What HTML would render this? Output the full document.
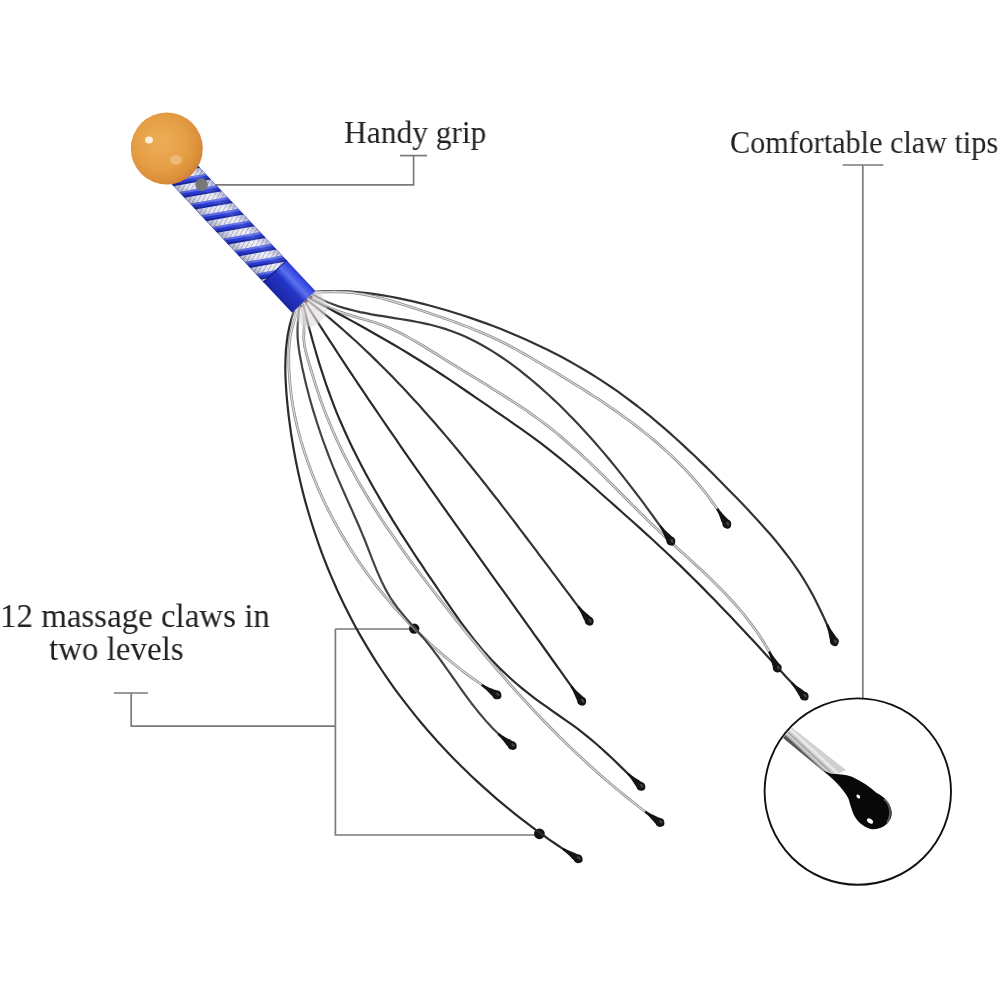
<!DOCTYPE html>
<html><head><meta charset="utf-8"><style>
html,body{margin:0;padding:0;background:#fff;}
body{width:1000px;height:1000px;position:relative;overflow:hidden;}
svg{position:absolute;left:0;top:0;}
.t{position:absolute;transform-origin:0 0;will-change:transform;font-family:"Liberation Serif",serif;color:#222;white-space:nowrap;line-height:1;}
</style></head><body>
<svg width="1000" height="1000" viewBox="0 0 1000 1000">

<defs>
  <radialGradient id="ballg" cx="0.42" cy="0.42" r="0.62">
    <stop offset="0" stop-color="#ecad58"/>
    <stop offset="0.55" stop-color="#e6a046"/>
    <stop offset="0.85" stop-color="#dc8f3a"/>
    <stop offset="1" stop-color="#cf7f34"/>
  </radialGradient>
  <linearGradient id="blueg" x1="0" y1="0" x2="0" y2="1">
    <stop offset="0" stop-color="#3850e0"/>
    <stop offset="0.35" stop-color="#2a3fd0"/>
    <stop offset="0.75" stop-color="#1c2cb0"/>
    <stop offset="1" stop-color="#20309a"/>
  </linearGradient>
  <radialGradient id="hubfade" cx="0.5" cy="0.5" r="0.5">
    <stop offset="0" stop-color="#fff" stop-opacity="0.55"/>
    <stop offset="0.6" stop-color="#fff" stop-opacity="0.3"/>
    <stop offset="1" stop-color="#fff" stop-opacity="0"/>
  </radialGradient>
  <linearGradient id="shade" x1="0" y1="0" x2="0" y2="1">
    <stop offset="0" stop-color="#000" stop-opacity="0.10"/>
    <stop offset="0.3" stop-color="#fff" stop-opacity="0.10"/>
    <stop offset="0.7" stop-color="#000" stop-opacity="0.0"/>
    <stop offset="1" stop-color="#000" stop-opacity="0.18"/>
  </linearGradient>
  <linearGradient id="silv" x1="0" y1="0" x2="0" y2="1">
    <stop offset="0" stop-color="#c8ccee"/>
    <stop offset="0.4" stop-color="#f4f4ff"/>
    <stop offset="1" stop-color="#d0d4ea"/>
  </linearGradient>
  <linearGradient id="collar" x1="0" y1="0" x2="0" y2="1">
    <stop offset="0" stop-color="#2a3ad8"/>
    <stop offset="0.3" stop-color="#5a72f0"/>
    <stop offset="0.5" stop-color="#2436c8"/>
    <stop offset="1" stop-color="#1a26a0"/>
  </linearGradient>
  <linearGradient id="tube2" gradientUnits="userSpaceOnUse" x1="804" y1="753.5" x2="811" y2="746">
    <stop offset="0" stop-color="#555"/>
    <stop offset="0.1" stop-color="#a0a0a0"/>
    <stop offset="0.3" stop-color="#d8d8d8"/>
    <stop offset="0.45" stop-color="#a0a0a0"/>
    <stop offset="0.6" stop-color="#d0d0d0"/>
    <stop offset="0.85" stop-color="#f0f0f0"/>
    <stop offset="1" stop-color="#d0d0d0"/>
  </linearGradient>
  <linearGradient id="tube" x1="0" y1="0" x2="0" y2="1">
    <stop offset="0" stop-color="#bbb"/>
    <stop offset="0.3" stop-color="#f4f4f4"/>
    <stop offset="0.55" stop-color="#cfcfcf"/>
    <stop offset="0.8" stop-color="#888"/>
    <stop offset="1" stop-color="#444"/>
  </linearGradient>
</defs>

<g stroke="#7a7a7a" stroke-width="1.7" fill="none">
  <path d="M400,155.6 H427"/>
  <path d="M413.6,155.6 V184.8 H204"/>
  <path d="M842.6,165 H883.2"/>
  <path d="M862.8,165 V698"/>
  <path d="M114,693 H148"/>
  <path d="M131.2,693 V726.2 H335.4"/>
  <path d="M335.4,629 V835 H539"/>
  <path d="M335.4,629 H414"/>
</g>
<circle cx="201.6" cy="184.6" r="6.3" fill="#777"/>
<circle cx="414.2" cy="628.6" r="5.2" fill="#111"/>
<circle cx="539.4" cy="833.8" r="5.4" fill="#111"/>

<g><path d="M316.0,291.5 L324.2,291.1 L332.3,291.0 L340.5,291.1 L348.7,291.4 L356.9,292.0 L365.1,292.9 L373.3,293.9 L381.5,295.1 L389.7,296.5 L397.9,298.1 L406.1,299.8 L414.2,301.6 L422.3,303.6 L430.4,305.8 L438.5,308.0 L446.5,310.3 L454.5,312.8 L462.5,315.3 L470.4,317.9 L478.3,320.6 L486.1,323.4 L493.9,326.3 L501.6,329.3 L509.3,332.4 L517.0,335.7 L524.6,339.0 L532.1,342.4 L539.6,345.9 L547.0,349.5 L554.4,353.3 L561.7,357.1 L569.0,361.0 L576.2,365.1 L583.3,369.3 L590.4,373.5 L597.4,377.9 L604.3,382.4 L611.2,387.0 L618.0,391.7 L624.7,396.6 L631.3,401.5 L637.9,406.5 L644.4,411.7 L650.9,416.9 L657.3,422.3 L663.6,427.7 L669.9,433.2 L676.1,438.7 L682.3,444.4 L688.4,450.1 L694.5,455.8 L700.5,461.6 L706.5,467.4 L712.4,473.3 L718.3,479.2 L724.2,485.2 L730.0,491.2 L735.8,497.1 L741.6,503.1 L747.3,509.1 L753.0,515.2 L758.6,521.3 L764.1,527.4 L769.6,533.6 L774.9,539.8 L780.1,546.2 L785.2,552.7 L790.1,559.2 L794.9,565.9 L799.5,572.7 L804.0,579.7 L808.2,586.8 L812.3,594.1 L816.1,601.4 L819.8,608.9 L823.4,616.5 L826.9,624.2 L830.3,631.9 L833.6,639.6" stroke="#333" stroke-width="2.2" fill="none" stroke-linecap="round" stroke-linejoin="round"/><path d="M315.0,292.6 L321.1,292.1 L327.2,291.8 L333.4,291.7 L339.5,291.8 L345.6,292.1 L351.7,292.7 L357.7,293.5 L363.7,294.4 L369.7,295.6 L375.7,296.9 L381.6,298.3 L387.6,299.9 L393.5,301.6 L399.4,303.4 L405.3,305.2 L411.2,307.1 L417.0,309.0 L422.9,311.0 L428.8,313.0 L434.6,315.0 L440.5,317.0 L446.3,319.0 L452.1,321.1 L457.9,323.2 L463.7,325.4 L469.4,327.6 L475.1,329.9 L480.8,332.2 L486.4,334.7 L492.0,337.2 L497.5,339.8 L503.0,342.5 L508.4,345.3 L513.9,348.2 L519.2,351.2 L524.6,354.2 L529.9,357.2 L535.2,360.3 L540.5,363.4 L545.8,366.6 L551.1,369.7 L556.4,372.9 L561.7,376.1 L567.0,379.3 L572.3,382.6 L577.5,385.9 L582.8,389.2 L588.0,392.5 L593.2,395.8 L598.4,399.2 L603.6,402.7 L608.7,406.1 L613.8,409.6 L618.8,413.2 L623.9,416.8 L628.8,420.4 L633.8,424.1 L638.7,427.9 L643.5,431.7 L648.3,435.5 L653.0,439.4 L657.7,443.4 L662.3,447.4 L666.9,451.5 L671.4,455.7 L675.8,459.9 L680.1,464.2 L684.4,468.6 L688.6,473.1 L692.7,477.6 L696.8,482.2 L700.7,486.9 L704.6,491.7 L708.4,496.6 L712.0,501.6 L715.6,506.6 L719.1,511.7 L722.5,517.0 L725.8,522.3" stroke="#8a8a8a" stroke-width="2.7" fill="none" stroke-linecap="round" stroke-linejoin="round"/><path d="M315.0,292.6 L321.1,292.1 L327.2,291.8 L333.4,291.7 L339.5,291.8 L345.6,292.1 L351.7,292.7 L357.7,293.5 L363.7,294.4 L369.7,295.6 L375.7,296.9 L381.6,298.3 L387.6,299.9 L393.5,301.6 L399.4,303.4 L405.3,305.2 L411.2,307.1 L417.0,309.0 L422.9,311.0 L428.8,313.0 L434.6,315.0 L440.5,317.0 L446.3,319.0 L452.1,321.1 L457.9,323.2 L463.7,325.4 L469.4,327.6 L475.1,329.9 L480.8,332.2 L486.4,334.7 L492.0,337.2 L497.5,339.8 L503.0,342.5 L508.4,345.3 L513.9,348.2 L519.2,351.2 L524.6,354.2 L529.9,357.2 L535.2,360.3 L540.5,363.4 L545.8,366.6 L551.1,369.7 L556.4,372.9 L561.7,376.1 L567.0,379.3 L572.3,382.6 L577.5,385.9 L582.8,389.2 L588.0,392.5 L593.2,395.8 L598.4,399.2 L603.6,402.7 L608.7,406.1 L613.8,409.6 L618.8,413.2 L623.9,416.8 L628.8,420.4 L633.8,424.1 L638.7,427.9 L643.5,431.7 L648.3,435.5 L653.0,439.4 L657.7,443.4 L662.3,447.4 L666.9,451.5 L671.4,455.7 L675.8,459.9 L680.1,464.2 L684.4,468.6 L688.6,473.1 L692.7,477.6 L696.8,482.2 L700.7,486.9 L704.6,491.7 L708.4,496.6 L712.0,501.6 L715.6,506.6 L719.1,511.7 L722.5,517.0 L725.8,522.3" stroke="#dcdcdc" stroke-width="1.2" fill="none" stroke-linecap="round" stroke-linejoin="round"/><path d="M313.0,294.5 L317.8,297.3 L322.8,299.9 L327.8,302.2 L333.0,304.3 L338.3,306.2 L343.6,307.9 L349.1,309.4 L354.6,310.8 L360.1,312.1 L365.8,313.2 L371.4,314.3 L377.2,315.3 L382.9,316.2 L388.6,317.1 L394.4,318.1 L400.1,319.0 L405.9,319.9 L411.6,320.9 L417.3,322.0 L423.0,323.1 L428.6,324.3 L434.2,325.7 L439.7,327.2 L445.1,328.9 L450.5,330.7 L455.8,332.7 L461.0,334.8 L466.2,337.1 L471.3,339.5 L476.3,342.0 L481.3,344.7 L486.2,347.5 L491.0,350.4 L495.8,353.4 L500.5,356.5 L505.2,359.7 L509.8,362.9 L514.4,366.3 L518.9,369.7 L523.4,373.3 L527.8,376.8 L532.2,380.5 L536.5,384.1 L540.8,387.9 L545.1,391.7 L549.3,395.5 L553.4,399.4 L557.6,403.3 L561.7,407.3 L565.7,411.3 L569.7,415.4 L573.7,419.4 L577.6,423.6 L581.5,427.7 L585.4,431.9 L589.3,436.2 L593.1,440.5 L596.8,444.7 L600.6,449.1 L604.3,453.4 L607.9,457.8 L611.6,462.2 L615.2,466.6 L618.8,471.1 L622.4,475.6 L625.9,480.1 L629.4,484.6 L632.9,489.1 L636.3,493.6 L639.8,498.2 L643.2,502.7 L646.6,507.3 L649.9,511.9 L653.3,516.5 L656.6,521.1 L659.9,525.7 L663.2,530.3 L666.5,534.9 L669.7,539.5" stroke="#3a3a3a" stroke-width="2.2" fill="none" stroke-linecap="round" stroke-linejoin="round"/><path d="M311.0,296.5 L317.2,301.1 L323.7,305.0 L330.6,308.3 L337.7,311.1 L344.9,313.6 L352.3,315.9 L359.8,318.1 L367.2,320.2 L374.6,322.5 L381.9,325.0 L388.9,327.8 L395.9,331.0 L402.7,334.3 L409.3,337.9 L415.9,341.6 L422.5,345.5 L428.9,349.5 L435.4,353.5 L441.9,357.6 L448.4,361.6 L454.9,365.7 L461.4,369.7 L468.0,373.7 L474.6,377.7 L481.2,381.7 L487.7,385.7 L494.3,389.8 L500.8,393.9 L507.3,398.0 L513.8,402.1 L520.2,406.4 L526.6,410.7 L532.8,415.1 L539.0,419.5 L545.2,424.1 L551.2,428.8 L557.1,433.5 L563.0,438.4 L568.7,443.4 L574.4,448.4 L580.1,453.6 L585.6,458.8 L591.2,464.0 L596.6,469.3 L602.1,474.6 L607.5,480.0 L612.9,485.4 L618.3,490.8 L623.7,496.3 L629.1,501.7 L634.5,507.1 L639.9,512.5 L645.3,517.9 L650.8,523.2 L656.4,528.5 L661.9,533.8 L667.5,539.0 L673.2,544.2 L678.8,549.4 L684.5,554.5 L690.1,559.7 L695.8,564.9 L701.4,570.1 L706.9,575.3 L712.4,580.6 L717.8,586.0 L723.2,591.4 L728.4,596.9 L733.5,602.5 L738.6,608.2 L743.5,614.0 L748.2,620.0 L752.8,626.1 L757.2,632.3 L761.5,638.7 L765.5,645.2 L769.4,651.9 L773.0,658.9 L776.4,666.0" stroke="#8a8a8a" stroke-width="2.7" fill="none" stroke-linecap="round" stroke-linejoin="round"/><path d="M311.0,296.5 L317.2,301.1 L323.7,305.0 L330.6,308.3 L337.7,311.1 L344.9,313.6 L352.3,315.9 L359.8,318.1 L367.2,320.2 L374.6,322.5 L381.9,325.0 L388.9,327.8 L395.9,331.0 L402.7,334.3 L409.3,337.9 L415.9,341.6 L422.5,345.5 L428.9,349.5 L435.4,353.5 L441.9,357.6 L448.4,361.6 L454.9,365.7 L461.4,369.7 L468.0,373.7 L474.6,377.7 L481.2,381.7 L487.7,385.7 L494.3,389.8 L500.8,393.9 L507.3,398.0 L513.8,402.1 L520.2,406.4 L526.6,410.7 L532.8,415.1 L539.0,419.5 L545.2,424.1 L551.2,428.8 L557.1,433.5 L563.0,438.4 L568.7,443.4 L574.4,448.4 L580.1,453.6 L585.6,458.8 L591.2,464.0 L596.6,469.3 L602.1,474.6 L607.5,480.0 L612.9,485.4 L618.3,490.8 L623.7,496.3 L629.1,501.7 L634.5,507.1 L639.9,512.5 L645.3,517.9 L650.8,523.2 L656.4,528.5 L661.9,533.8 L667.5,539.0 L673.2,544.2 L678.8,549.4 L684.5,554.5 L690.1,559.7 L695.8,564.9 L701.4,570.1 L706.9,575.3 L712.4,580.6 L717.8,586.0 L723.2,591.4 L728.4,596.9 L733.5,602.5 L738.6,608.2 L743.5,614.0 L748.2,620.0 L752.8,626.1 L757.2,632.3 L761.5,638.7 L765.5,645.2 L769.4,651.9 L773.0,658.9 L776.4,666.0" stroke="#d8d8d8" stroke-width="1.2" fill="none" stroke-linecap="round" stroke-linejoin="round"/><path d="M309.0,298.0 L316.1,301.8 L323.3,305.6 L330.4,309.4 L337.5,313.2 L344.7,317.0 L351.7,320.9 L358.8,324.8 L365.9,328.7 L372.9,332.7 L379.9,336.7 L386.9,340.7 L393.8,344.8 L400.8,348.9 L407.7,353.0 L414.5,357.2 L421.4,361.5 L428.2,365.7 L435.0,370.1 L441.7,374.5 L448.4,378.9 L455.1,383.4 L461.8,388.0 L468.4,392.5 L475.1,397.1 L481.7,401.6 L488.4,406.2 L495.0,410.8 L501.7,415.4 L508.3,419.9 L514.9,424.6 L521.5,429.2 L528.1,433.9 L534.6,438.6 L541.1,443.4 L547.5,448.3 L553.8,453.3 L560.1,458.4 L566.3,463.5 L572.5,468.7 L578.6,473.9 L584.7,479.2 L590.8,484.5 L596.8,489.8 L602.9,495.2 L608.9,500.5 L615.0,505.9 L621.0,511.3 L627.1,516.7 L633.1,522.0 L639.1,527.4 L645.1,532.9 L651.1,538.3 L657.0,543.8 L662.9,549.3 L668.8,554.8 L674.7,560.4 L680.5,565.9 L686.3,571.6 L692.0,577.2 L697.8,582.9 L703.5,588.6 L709.1,594.4 L714.7,600.1 L720.3,605.9 L725.9,611.7 L731.5,617.6 L737.0,623.4 L742.5,629.3 L748.0,635.2 L753.5,641.1 L759.0,647.1 L764.4,653.0 L769.9,659.0 L775.3,665.0 L780.8,670.9 L786.2,676.9 L791.7,682.8 L797.2,688.7 L802.8,694.6" stroke="#2a2a2a" stroke-width="2.2" fill="none" stroke-linecap="round" stroke-linejoin="round"/><path d="M307.0,300.0 L311.3,303.3 L315.5,306.7 L319.7,310.1 L323.9,313.5 L328.1,316.9 L332.2,320.4 L336.3,323.9 L340.4,327.4 L344.5,331.0 L348.5,334.6 L352.5,338.2 L356.5,341.8 L360.5,345.5 L364.4,349.2 L368.3,352.9 L372.2,356.6 L376.0,360.4 L379.9,364.2 L383.7,368.0 L387.5,371.8 L391.3,375.6 L395.0,379.5 L398.8,383.4 L402.5,387.3 L406.2,391.2 L409.8,395.2 L413.5,399.2 L417.1,403.1 L420.7,407.1 L424.3,411.2 L427.9,415.2 L431.5,419.2 L435.0,423.3 L438.6,427.4 L442.1,431.5 L445.6,435.6 L449.1,439.7 L452.6,443.9 L456.0,448.0 L459.5,452.2 L462.9,456.4 L466.3,460.6 L469.8,464.8 L473.1,469.0 L476.5,473.2 L479.9,477.4 L483.3,481.7 L486.6,485.9 L490.0,490.2 L493.3,494.5 L496.7,498.7 L500.0,503.0 L503.3,507.3 L506.6,511.6 L509.9,515.9 L513.2,520.2 L516.5,524.5 L519.7,528.8 L523.0,533.1 L526.3,537.5 L529.6,541.8 L532.8,546.1 L536.1,550.4 L539.3,554.8 L542.6,559.1 L545.8,563.4 L549.1,567.7 L552.3,572.1 L555.6,576.4 L558.8,580.7 L562.0,585.0 L565.3,589.4 L568.5,593.7 L571.8,598.0 L575.0,602.3 L578.3,606.6 L581.5,610.9 L584.8,615.2 L588.0,619.5" stroke="#333" stroke-width="2.2" fill="none" stroke-linecap="round" stroke-linejoin="round"/><path d="M305.0,302.0 L308.2,307.2 L311.5,312.4 L314.8,317.5 L318.1,322.7 L321.4,327.8 L324.7,333.0 L328.0,338.1 L331.3,343.2 L334.7,348.3 L338.0,353.5 L341.4,358.6 L344.7,363.7 L348.1,368.8 L351.5,373.9 L354.9,379.0 L358.3,384.1 L361.7,389.1 L365.1,394.2 L368.5,399.3 L372.0,404.4 L375.4,409.4 L378.9,414.5 L382.3,419.5 L385.8,424.6 L389.2,429.6 L392.7,434.7 L396.2,439.7 L399.7,444.8 L403.1,449.8 L406.6,454.8 L410.1,459.8 L413.6,464.9 L417.1,469.9 L420.7,474.9 L424.2,479.9 L427.7,484.9 L431.2,489.9 L434.8,494.9 L438.3,499.9 L441.8,504.9 L445.4,509.9 L448.9,514.9 L452.5,519.9 L456.0,524.9 L459.6,529.9 L463.1,534.9 L466.7,539.9 L470.2,544.9 L473.8,549.9 L477.4,554.9 L480.9,559.8 L484.5,564.8 L488.1,569.8 L491.6,574.8 L495.2,579.8 L498.8,584.8 L502.3,589.7 L505.9,594.7 L509.5,599.7 L513.0,604.7 L516.6,609.7 L520.2,614.6 L523.7,619.6 L527.3,624.6 L530.9,629.6 L534.4,634.6 L538.0,639.5 L541.6,644.5 L545.1,649.5 L548.7,654.5 L552.2,659.5 L555.8,664.5 L559.3,669.4 L562.9,674.4 L566.4,679.4 L570.0,684.4 L573.5,689.4 L577.1,694.4 L580.6,699.4" stroke="#2a2a2a" stroke-width="2.2" fill="none" stroke-linecap="round" stroke-linejoin="round"/><path d="M303.0,304.0 L304.8,311.3 L306.7,318.6 L308.6,326.0 L310.6,333.3 L312.6,340.7 L314.7,348.0 L316.8,355.3 L319.0,362.6 L321.3,369.9 L323.7,377.1 L326.1,384.4 L328.7,391.5 L331.3,398.7 L334.0,405.8 L336.8,412.8 L339.7,419.8 L342.8,426.8 L345.9,433.7 L349.0,440.6 L352.3,447.4 L355.7,454.2 L359.1,461.0 L362.6,467.7 L366.2,474.4 L369.8,481.1 L373.5,487.7 L377.3,494.3 L381.1,500.9 L384.9,507.4 L388.9,513.9 L392.8,520.4 L396.9,526.9 L400.9,533.3 L405.0,539.7 L409.2,546.1 L413.3,552.5 L417.5,558.9 L421.8,565.2 L426.0,571.6 L430.3,577.9 L434.6,584.2 L438.9,590.5 L443.2,596.8 L447.5,603.1 L451.8,609.3 L456.2,615.6 L460.6,621.8 L465.1,627.9 L469.7,634.0 L474.3,639.9 L479.1,645.8 L484.0,651.6 L489.1,657.2 L494.3,662.7 L499.6,668.1 L505.0,673.3 L510.6,678.5 L516.3,683.5 L522.1,688.4 L528.1,693.1 L534.1,697.8 L540.2,702.3 L546.4,706.7 L552.6,711.1 L558.9,715.5 L565.1,719.8 L571.3,724.2 L577.5,728.7 L583.5,733.3 L589.4,738.1 L595.2,743.0 L600.9,748.0 L606.5,753.1 L612.1,758.3 L617.6,763.6 L623.0,768.9 L628.5,774.2 L633.9,779.5 L639.4,784.8" stroke="#2a2a2a" stroke-width="2.2" fill="none" stroke-linecap="round" stroke-linejoin="round"/><path d="M301.0,305.5 L303.7,313.3 L304.3,321.4 L304.0,329.5 L303.7,337.5 L304.4,345.5 L306.2,353.3 L308.4,361.1 L310.7,368.9 L313.1,376.7 L315.5,384.6 L318.1,392.4 L320.7,400.2 L323.5,407.9 L326.4,415.5 L329.5,423.1 L332.7,430.5 L336.0,438.0 L339.4,445.3 L342.9,452.6 L346.6,459.9 L350.4,467.1 L354.2,474.2 L358.2,481.3 L362.3,488.3 L366.4,495.2 L370.6,502.2 L375.0,509.0 L379.4,515.9 L383.8,522.7 L388.4,529.4 L393.0,536.1 L397.6,542.8 L402.3,549.5 L407.1,556.1 L411.9,562.7 L416.8,569.2 L421.7,575.7 L426.6,582.2 L431.6,588.7 L436.6,595.2 L441.6,601.6 L446.7,608.0 L451.7,614.4 L456.8,620.8 L461.9,627.2 L467.0,633.5 L472.2,639.9 L477.4,646.1 L482.6,652.4 L487.8,658.6 L493.1,664.9 L498.4,671.0 L503.8,677.2 L509.1,683.3 L514.5,689.4 L520.0,695.4 L525.5,701.4 L531.0,707.4 L536.5,713.3 L542.2,719.2 L547.8,725.0 L553.5,730.8 L559.2,736.5 L565.0,742.2 L570.8,747.9 L576.7,753.5 L582.7,759.0 L588.6,764.5 L594.7,770.0 L600.8,775.4 L606.9,780.7 L613.1,786.0 L619.4,791.2 L625.7,796.4 L632.1,801.5 L638.5,806.5 L645.0,811.5 L651.6,816.4 L658.2,821.2" stroke="#8a8a8a" stroke-width="2.7" fill="none" stroke-linecap="round" stroke-linejoin="round"/><path d="M301.0,305.5 L303.7,313.3 L304.3,321.4 L304.0,329.5 L303.7,337.5 L304.4,345.5 L306.2,353.3 L308.4,361.1 L310.7,368.9 L313.1,376.7 L315.5,384.6 L318.1,392.4 L320.7,400.2 L323.5,407.9 L326.4,415.5 L329.5,423.1 L332.7,430.5 L336.0,438.0 L339.4,445.3 L342.9,452.6 L346.6,459.9 L350.4,467.1 L354.2,474.2 L358.2,481.3 L362.3,488.3 L366.4,495.2 L370.6,502.2 L375.0,509.0 L379.4,515.9 L383.8,522.7 L388.4,529.4 L393.0,536.1 L397.6,542.8 L402.3,549.5 L407.1,556.1 L411.9,562.7 L416.8,569.2 L421.7,575.7 L426.6,582.2 L431.6,588.7 L436.6,595.2 L441.6,601.6 L446.7,608.0 L451.7,614.4 L456.8,620.8 L461.9,627.2 L467.0,633.5 L472.2,639.9 L477.4,646.1 L482.6,652.4 L487.8,658.6 L493.1,664.9 L498.4,671.0 L503.8,677.2 L509.1,683.3 L514.5,689.4 L520.0,695.4 L525.5,701.4 L531.0,707.4 L536.5,713.3 L542.2,719.2 L547.8,725.0 L553.5,730.8 L559.2,736.5 L565.0,742.2 L570.8,747.9 L576.7,753.5 L582.7,759.0 L588.6,764.5 L594.7,770.0 L600.8,775.4 L606.9,780.7 L613.1,786.0 L619.4,791.2 L625.7,796.4 L632.1,801.5 L638.5,806.5 L645.0,811.5 L651.6,816.4 L658.2,821.2" stroke="#d8d8d8" stroke-width="1.2" fill="none" stroke-linecap="round" stroke-linejoin="round"/><path d="M297.1,309.0 L296.1,314.1 L294.7,319.2 L293.1,324.6 L291.6,330.0 L290.4,335.6 L289.6,341.3 L289.1,347.1 L288.8,353.0 L288.8,358.8 L288.8,364.7 L289.0,370.5 L289.4,376.4 L289.8,382.2 L290.4,388.0 L291.1,393.9 L291.9,399.6 L292.8,405.4 L293.9,411.2 L295.0,416.9 L296.3,422.6 L297.6,428.3 L299.1,433.9 L300.6,439.6 L302.3,445.2 L304.0,450.8 L305.9,456.4 L307.8,461.9 L309.8,467.4 L311.8,472.9 L314.0,478.3 L316.2,483.7 L318.5,489.1 L320.9,494.4 L323.3,499.7 L325.8,505.0 L328.4,510.2 L331.1,515.4 L333.8,520.6 L336.6,525.7 L339.5,530.8 L342.4,535.8 L345.4,540.8 L348.4,545.8 L351.6,550.7 L354.7,555.6 L358.0,560.5 L361.3,565.3 L364.7,570.0 L368.1,574.7 L371.6,579.4 L375.1,584.1 L378.7,588.6 L382.4,593.2 L386.1,597.7 L389.9,602.1 L393.7,606.5 L397.6,610.9 L401.5,615.2 L405.5,619.5 L409.6,623.7 L413.7,627.8 L417.8,632.0 L422.0,636.0 L426.2,640.0 L430.5,644.0 L434.9,647.9 L439.3,651.8 L443.7,655.6 L448.2,659.3 L452.7,663.0 L457.2,666.7 L461.8,670.3 L466.5,673.8 L471.2,677.3 L475.9,680.7 L480.7,684.0 L485.5,687.3 L490.3,690.6 L495.2,693.8" stroke="#8a8a8a" stroke-width="2.7" fill="none" stroke-linecap="round" stroke-linejoin="round"/><path d="M297.1,309.0 L296.1,314.1 L294.7,319.2 L293.1,324.6 L291.6,330.0 L290.4,335.6 L289.6,341.3 L289.1,347.1 L288.8,353.0 L288.8,358.8 L288.8,364.7 L289.0,370.5 L289.4,376.4 L289.8,382.2 L290.4,388.0 L291.1,393.9 L291.9,399.6 L292.8,405.4 L293.9,411.2 L295.0,416.9 L296.3,422.6 L297.6,428.3 L299.1,433.9 L300.6,439.6 L302.3,445.2 L304.0,450.8 L305.9,456.4 L307.8,461.9 L309.8,467.4 L311.8,472.9 L314.0,478.3 L316.2,483.7 L318.5,489.1 L320.9,494.4 L323.3,499.7 L325.8,505.0 L328.4,510.2 L331.1,515.4 L333.8,520.6 L336.6,525.7 L339.5,530.8 L342.4,535.8 L345.4,540.8 L348.4,545.8 L351.6,550.7 L354.7,555.6 L358.0,560.5 L361.3,565.3 L364.7,570.0 L368.1,574.7 L371.6,579.4 L375.1,584.1 L378.7,588.6 L382.4,593.2 L386.1,597.7 L389.9,602.1 L393.7,606.5 L397.6,610.9 L401.5,615.2 L405.5,619.5 L409.6,623.7 L413.7,627.8 L417.8,632.0 L422.0,636.0 L426.2,640.0 L430.5,644.0 L434.9,647.9 L439.3,651.8 L443.7,655.6 L448.2,659.3 L452.7,663.0 L457.2,666.7 L461.8,670.3 L466.5,673.8 L471.2,677.3 L475.9,680.7 L480.7,684.0 L485.5,687.3 L490.3,690.6 L495.2,693.8" stroke="#dcdcdc" stroke-width="1.2" fill="none" stroke-linecap="round" stroke-linejoin="round"/><path d="M299.1,307.0 L298.7,312.7 L298.2,318.6 L297.7,324.6 L297.5,330.7 L297.6,336.8 L298.1,343.0 L298.9,349.2 L299.9,355.5 L301.1,361.7 L302.3,367.9 L303.7,374.1 L305.1,380.2 L306.6,386.4 L308.2,392.6 L309.8,398.7 L311.5,404.8 L313.3,410.9 L315.2,416.9 L317.1,423.0 L319.1,429.0 L321.1,435.0 L323.2,441.0 L325.4,446.9 L327.6,452.9 L329.9,458.8 L332.2,464.6 L334.6,470.5 L337.0,476.3 L339.5,482.1 L342.0,487.9 L344.6,493.7 L347.1,499.4 L349.7,505.2 L352.3,510.9 L354.8,516.7 L357.4,522.5 L359.9,528.3 L362.3,534.1 L364.8,540.0 L367.1,546.0 L369.4,551.9 L371.7,557.9 L374.1,563.9 L376.5,569.8 L379.0,575.6 L381.6,581.4 L384.4,587.1 L387.4,592.6 L390.6,598.0 L394.1,603.2 L397.8,608.2 L401.8,613.1 L405.8,617.9 L410.0,622.7 L414.2,627.4 L418.4,632.2 L422.6,636.9 L426.6,641.8 L430.6,646.8 L434.4,651.8 L438.2,656.9 L441.9,662.0 L445.6,667.1 L449.3,672.3 L452.9,677.5 L456.6,682.7 L460.2,687.9 L463.9,693.0 L467.6,698.1 L471.4,703.2 L475.3,708.1 L479.2,713.0 L483.3,717.9 L487.4,722.6 L491.7,727.2 L496.2,731.7 L500.8,736.0 L505.6,740.2 L510.6,744.2" stroke="#444" stroke-width="2.2" fill="none" stroke-linecap="round" stroke-linejoin="round"/><path d="M293.9,311.0 L291.4,318.7 L289.4,326.6 L287.8,334.5 L286.7,342.5 L285.9,350.5 L285.5,358.6 L285.3,366.8 L285.4,375.0 L285.8,383.2 L286.3,391.4 L287.0,399.6 L287.8,407.9 L288.7,416.1 L289.8,424.3 L290.9,432.5 L292.2,440.7 L293.6,448.8 L295.1,457.0 L296.7,465.1 L298.4,473.2 L300.2,481.3 L302.2,489.4 L304.2,497.4 L306.4,505.4 L308.7,513.3 L311.1,521.3 L313.6,529.2 L316.2,537.0 L318.9,544.8 L321.7,552.6 L324.7,560.4 L327.7,568.0 L330.9,575.7 L334.2,583.3 L337.5,590.8 L341.0,598.3 L344.6,605.8 L348.3,613.1 L352.1,620.5 L356.0,627.7 L360.0,634.9 L364.2,642.1 L368.4,649.1 L372.7,656.1 L377.1,663.1 L381.7,670.0 L386.3,676.8 L391.0,683.6 L395.8,690.3 L400.7,696.9 L405.7,703.4 L410.8,709.9 L415.9,716.4 L421.2,722.7 L426.5,729.0 L432.0,735.2 L437.5,741.4 L443.1,747.4 L448.7,753.4 L454.5,759.4 L460.3,765.2 L466.2,771.0 L472.1,776.7 L478.2,782.4 L484.3,787.9 L490.5,793.4 L496.7,798.8 L503.0,804.2 L509.4,809.4 L515.8,814.6 L522.3,819.7 L528.9,824.7 L535.5,829.7 L542.2,834.5 L548.9,839.3 L555.7,844.0 L562.6,848.6 L569.5,853.2 L576.4,857.6" stroke="#2a2a2a" stroke-width="2.2" fill="none" stroke-linecap="round" stroke-linejoin="round"/></g>
<g><g transform="translate(834.3,641.3) rotate(66.6)"><path d="M-18,-1.15 C-11,-1.3 -7,-3.0 -2.8,-3.5 A4.9,4.3 0 1 1 -2.8,3.5 C-7,3.0 -11,1.3 -18,1.15 Z" fill="#141414"/><ellipse cx="0.5" cy="-1.0" rx="2.2" ry="1.3" fill="#555" opacity="0.7"/></g><g transform="translate(726.7,523.8) rotate(57.8)"><path d="M-18,-1.15 C-11,-1.3 -7,-3.0 -2.8,-3.5 A4.9,4.3 0 1 1 -2.8,3.5 C-7,3.0 -11,1.3 -18,1.15 Z" fill="#141414"/><ellipse cx="0.5" cy="-1.0" rx="2.2" ry="1.3" fill="#555" opacity="0.7"/></g><g transform="translate(670.8,540.9) rotate(54.7)"><path d="M-18,-1.15 C-11,-1.3 -7,-3.0 -2.8,-3.5 A4.9,4.3 0 1 1 -2.8,3.5 C-7,3.0 -11,1.3 -18,1.15 Z" fill="#141414"/><ellipse cx="0.5" cy="-1.0" rx="2.2" ry="1.3" fill="#555" opacity="0.7"/></g><g transform="translate(777.2,667.6) rotate(63.4)"><path d="M-18,-1.15 C-11,-1.3 -7,-3.0 -2.8,-3.5 A4.9,4.3 0 1 1 -2.8,3.5 C-7,3.0 -11,1.3 -18,1.15 Z" fill="#141414"/><ellipse cx="0.5" cy="-1.0" rx="2.2" ry="1.3" fill="#555" opacity="0.7"/></g><g transform="translate(804.0,695.9) rotate(46.8)"><path d="M-18,-1.15 C-11,-1.3 -7,-3.0 -2.8,-3.5 A4.9,4.3 0 1 1 -2.8,3.5 C-7,3.0 -11,1.3 -18,1.15 Z" fill="#141414"/><ellipse cx="0.5" cy="-1.0" rx="2.2" ry="1.3" fill="#555" opacity="0.7"/></g><g transform="translate(589.1,620.9) rotate(52.8)"><path d="M-18,-1.15 C-11,-1.3 -7,-3.0 -2.8,-3.5 A4.9,4.3 0 1 1 -2.8,3.5 C-7,3.0 -11,1.3 -18,1.15 Z" fill="#141414"/><ellipse cx="0.5" cy="-1.0" rx="2.2" ry="1.3" fill="#555" opacity="0.7"/></g><g transform="translate(581.6,700.9) rotate(54.7)"><path d="M-18,-1.15 C-11,-1.3 -7,-3.0 -2.8,-3.5 A4.9,4.3 0 1 1 -2.8,3.5 C-7,3.0 -11,1.3 -18,1.15 Z" fill="#141414"/><ellipse cx="0.5" cy="-1.0" rx="2.2" ry="1.3" fill="#555" opacity="0.7"/></g><g transform="translate(640.7,786.1) rotate(44.3)"><path d="M-18,-1.15 C-11,-1.3 -7,-3.0 -2.8,-3.5 A4.9,4.3 0 1 1 -2.8,3.5 C-7,3.0 -11,1.3 -18,1.15 Z" fill="#141414"/><ellipse cx="0.5" cy="-1.0" rx="2.2" ry="1.3" fill="#555" opacity="0.7"/></g><g transform="translate(659.7,822.3) rotate(36.4)"><path d="M-18,-1.15 C-11,-1.3 -7,-3.0 -2.8,-3.5 A4.9,4.3 0 1 1 -2.8,3.5 C-7,3.0 -11,1.3 -18,1.15 Z" fill="#141414"/><ellipse cx="0.5" cy="-1.0" rx="2.2" ry="1.3" fill="#555" opacity="0.7"/></g><g transform="translate(496.7,694.8) rotate(33.5)"><path d="M-18,-1.15 C-11,-1.3 -7,-3.0 -2.8,-3.5 A4.9,4.3 0 1 1 -2.8,3.5 C-7,3.0 -11,1.3 -18,1.15 Z" fill="#141414"/><ellipse cx="0.5" cy="-1.0" rx="2.2" ry="1.3" fill="#555" opacity="0.7"/></g><g transform="translate(512.0,745.4) rotate(40.0)"><path d="M-18,-1.15 C-11,-1.3 -7,-3.0 -2.8,-3.5 A4.9,4.3 0 1 1 -2.8,3.5 C-7,3.0 -11,1.3 -18,1.15 Z" fill="#141414"/><ellipse cx="0.5" cy="-1.0" rx="2.2" ry="1.3" fill="#555" opacity="0.7"/></g><g transform="translate(577.9,858.6) rotate(33.0)"><path d="M-18,-1.15 C-11,-1.3 -7,-3.0 -2.8,-3.5 A4.9,4.3 0 1 1 -2.8,3.5 C-7,3.0 -11,1.3 -18,1.15 Z" fill="#141414"/><ellipse cx="0.5" cy="-1.0" rx="2.2" ry="1.3" fill="#555" opacity="0.7"/></g></g>

<circle cx="308" cy="306" r="26" fill="url(#hubfade)"/>
<path d="M296,309 L316,291 C322,294 326,300 327,306 C328,314 322,322 314,326 C306,329 299,325 296,318 Z" fill="#d4d0d0" opacity="0.45"/>
<circle cx="306" cy="301" r="1.8" fill="#6a2a2a" opacity="0.6"/>
<circle cx="311" cy="297" r="1.6" fill="#6a2a2a" opacity="0.55"/>
<circle cx="301" cy="306" r="1.5" fill="#5a2a2a" opacity="0.5"/>


<g transform="translate(185.2,175.2) rotate(46.9)">
  <clipPath id="hclip"><rect x="-6" y="-16" width="139" height="32"/></clipPath>
  <clipPath id="wclip"><path d="M-48.0,16 L-40.0,16 L-19.1,-16 L-27.1,-16 Z"/><path d="M-32.0,16 L-24.0,16 L-3.1,-16 L-11.1,-16 Z"/><path d="M-16.0,16 L-8.0,16 L12.9,-16 L4.9,-16 Z"/><path d="M0.0,16 L8.0,16 L28.9,-16 L20.9,-16 Z"/><path d="M16.0,16 L24.0,16 L44.9,-16 L36.9,-16 Z"/><path d="M32.0,16 L40.0,16 L60.9,-16 L52.9,-16 Z"/><path d="M48.0,16 L56.0,16 L76.9,-16 L68.9,-16 Z"/><path d="M64.0,16 L72.0,16 L92.9,-16 L84.9,-16 Z"/><path d="M80.0,16 L88.0,16 L108.9,-16 L100.9,-16 Z"/><path d="M96.0,16 L104.0,16 L124.9,-16 L116.9,-16 Z"/><path d="M112.0,16 L120.0,16 L140.9,-16 L132.9,-16 Z"/><path d="M128.0,16 L136.0,16 L156.9,-16 L148.9,-16 Z"/><path d="M144.0,16 L152.0,16 L172.9,-16 L164.9,-16 Z"/><path d="M160.0,16 L168.0,16 L188.9,-16 L180.9,-16 Z"/><path d="M176.0,16 L184.0,16 L204.9,-16 L196.9,-16 Z"/></clipPath>
  <rect x="-6" y="-16" width="139" height="32" fill="#2a3bd6"/>
  <g clip-path="url(#hclip)"><path d="M-40.0,16 L-37.4,16 L-16.5,-16 L-19.1,-16 Z" fill="#7282f4" opacity="0.75"/><path d="M-34.2,16 L-32.0,16 L-11.1,-16 L-13.3,-16 Z" fill="#101a80" opacity="0.6"/><path d="M-24.0,16 L-21.4,16 L-0.5,-16 L-3.1,-16 Z" fill="#7282f4" opacity="0.75"/><path d="M-18.2,16 L-16.0,16 L4.9,-16 L2.7,-16 Z" fill="#101a80" opacity="0.6"/><path d="M-8.0,16 L-5.4,16 L15.5,-16 L12.9,-16 Z" fill="#7282f4" opacity="0.75"/><path d="M-2.2,16 L0.0,16 L20.9,-16 L18.7,-16 Z" fill="#101a80" opacity="0.6"/><path d="M8.0,16 L10.6,16 L31.5,-16 L28.9,-16 Z" fill="#7282f4" opacity="0.75"/><path d="M13.8,16 L16.0,16 L36.9,-16 L34.7,-16 Z" fill="#101a80" opacity="0.6"/><path d="M24.0,16 L26.6,16 L47.5,-16 L44.9,-16 Z" fill="#7282f4" opacity="0.75"/><path d="M29.8,16 L32.0,16 L52.9,-16 L50.7,-16 Z" fill="#101a80" opacity="0.6"/><path d="M40.0,16 L42.6,16 L63.5,-16 L60.9,-16 Z" fill="#7282f4" opacity="0.75"/><path d="M45.8,16 L48.0,16 L68.9,-16 L66.7,-16 Z" fill="#101a80" opacity="0.6"/><path d="M56.0,16 L58.6,16 L79.5,-16 L76.9,-16 Z" fill="#7282f4" opacity="0.75"/><path d="M61.8,16 L64.0,16 L84.9,-16 L82.7,-16 Z" fill="#101a80" opacity="0.6"/><path d="M72.0,16 L74.6,16 L95.5,-16 L92.9,-16 Z" fill="#7282f4" opacity="0.75"/><path d="M77.8,16 L80.0,16 L100.9,-16 L98.7,-16 Z" fill="#101a80" opacity="0.6"/><path d="M88.0,16 L90.6,16 L111.5,-16 L108.9,-16 Z" fill="#7282f4" opacity="0.75"/><path d="M93.8,16 L96.0,16 L116.9,-16 L114.7,-16 Z" fill="#101a80" opacity="0.6"/><path d="M104.0,16 L106.6,16 L127.5,-16 L124.9,-16 Z" fill="#7282f4" opacity="0.75"/><path d="M109.8,16 L112.0,16 L132.9,-16 L130.7,-16 Z" fill="#101a80" opacity="0.6"/><path d="M120.0,16 L122.6,16 L143.5,-16 L140.9,-16 Z" fill="#7282f4" opacity="0.75"/><path d="M125.8,16 L128.0,16 L148.9,-16 L146.7,-16 Z" fill="#101a80" opacity="0.6"/><path d="M136.0,16 L138.6,16 L159.5,-16 L156.9,-16 Z" fill="#7282f4" opacity="0.75"/><path d="M141.8,16 L144.0,16 L164.9,-16 L162.7,-16 Z" fill="#101a80" opacity="0.6"/><path d="M152.0,16 L154.6,16 L175.5,-16 L172.9,-16 Z" fill="#7282f4" opacity="0.75"/><path d="M157.8,16 L160.0,16 L180.9,-16 L178.7,-16 Z" fill="#101a80" opacity="0.6"/><path d="M168.0,16 L170.6,16 L191.5,-16 L188.9,-16 Z" fill="#7282f4" opacity="0.75"/><path d="M173.8,16 L176.0,16 L196.9,-16 L194.7,-16 Z" fill="#101a80" opacity="0.6"/><path d="M184.0,16 L186.6,16 L207.5,-16 L204.9,-16 Z" fill="#7282f4" opacity="0.75"/><path d="M189.8,16 L192.0,16 L212.9,-16 L210.7,-16 Z" fill="#101a80" opacity="0.6"/>
    <g clip-path="url(#wclip)"><rect x="-40" y="-16" width="200" height="32" fill="url(#silv)"/>
      <g stroke="#3c3c50" stroke-width="0.8" opacity="0.4"><path d="M-80.0,-16 L-70.3,16"/><path d="M-76.0,-16 L-66.3,16"/><path d="M-72.0,-16 L-62.3,16"/><path d="M-68.0,-16 L-58.3,16"/><path d="M-64.0,-16 L-54.3,16"/><path d="M-60.0,-16 L-50.3,16"/><path d="M-56.0,-16 L-46.3,16"/><path d="M-52.0,-16 L-42.3,16"/><path d="M-48.0,-16 L-38.3,16"/><path d="M-44.0,-16 L-34.3,16"/><path d="M-40.0,-16 L-30.3,16"/><path d="M-36.0,-16 L-26.3,16"/><path d="M-32.0,-16 L-22.3,16"/><path d="M-28.0,-16 L-18.3,16"/><path d="M-24.0,-16 L-14.3,16"/><path d="M-20.0,-16 L-10.3,16"/><path d="M-16.0,-16 L-6.3,16"/><path d="M-12.0,-16 L-2.3,16"/><path d="M-8.0,-16 L1.7,16"/><path d="M-4.0,-16 L5.7,16"/><path d="M0.0,-16 L9.7,16"/><path d="M4.0,-16 L13.7,16"/><path d="M8.0,-16 L17.7,16"/><path d="M12.0,-16 L21.7,16"/><path d="M16.0,-16 L25.7,16"/><path d="M20.0,-16 L29.7,16"/><path d="M24.0,-16 L33.7,16"/><path d="M28.0,-16 L37.7,16"/><path d="M32.0,-16 L41.7,16"/><path d="M36.0,-16 L45.7,16"/><path d="M40.0,-16 L49.7,16"/><path d="M44.0,-16 L53.7,16"/><path d="M48.0,-16 L57.7,16"/><path d="M52.0,-16 L61.7,16"/><path d="M56.0,-16 L65.7,16"/><path d="M60.0,-16 L69.7,16"/><path d="M64.0,-16 L73.7,16"/><path d="M68.0,-16 L77.7,16"/><path d="M72.0,-16 L81.7,16"/><path d="M76.0,-16 L85.7,16"/><path d="M80.0,-16 L89.7,16"/><path d="M84.0,-16 L93.7,16"/><path d="M88.0,-16 L97.7,16"/><path d="M92.0,-16 L101.7,16"/><path d="M96.0,-16 L105.7,16"/><path d="M100.0,-16 L109.7,16"/><path d="M104.0,-16 L113.7,16"/><path d="M108.0,-16 L117.7,16"/><path d="M112.0,-16 L121.7,16"/><path d="M116.0,-16 L125.7,16"/><path d="M120.0,-16 L129.7,16"/><path d="M124.0,-16 L133.7,16"/><path d="M128.0,-16 L137.7,16"/><path d="M132.0,-16 L141.7,16"/><path d="M136.0,-16 L145.7,16"/><path d="M140.0,-16 L149.7,16"/><path d="M144.0,-16 L153.7,16"/><path d="M148.0,-16 L157.7,16"/><path d="M152.0,-16 L161.7,16"/><path d="M156.0,-16 L165.7,16"/><path d="M160.0,-16 L169.7,16"/><path d="M164.0,-16 L173.7,16"/><path d="M168.0,-16 L177.7,16"/><path d="M172.0,-16 L181.7,16"/><path d="M176.0,-16 L185.7,16"/><path d="M180.0,-16 L189.7,16"/><path d="M184.0,-16 L193.7,16"/><path d="M188.0,-16 L197.7,16"/><path d="M192.0,-16 L201.7,16"/><path d="M196.0,-16 L205.7,16"/><path d="M200.0,-16 L209.7,16"/><path d="M204.0,-16 L213.7,16"/><path d="M208.0,-16 L217.7,16"/><path d="M212.0,-16 L221.7,16"/><path d="M216.0,-16 L225.7,16"/><path d="M220.0,-16 L229.7,16"/><path d="M224.0,-16 L233.7,16"/><path d="M228.0,-16 L237.7,16"/><path d="M232.0,-16 L241.7,16"/><path d="M236.0,-16 L245.7,16"/><path d="M240.0,-16 L249.7,16"/><path d="M244.0,-16 L253.7,16"/><path d="M248.0,-16 L257.7,16"/><path d="M252.0,-16 L261.7,16"/><path d="M256.0,-16 L265.7,16"/><path d="M260.0,-16 L269.7,16"/><path d="M264.0,-16 L273.7,16"/><path d="M268.0,-16 L277.7,16"/><path d="M272.0,-16 L281.7,16"/><path d="M276.0,-16 L285.7,16"/><path d="M280.0,-16 L289.7,16"/><path d="M284.0,-16 L293.7,16"/><path d="M288.0,-16 L297.7,16"/><path d="M292.0,-16 L301.7,16"/><path d="M296.0,-16 L305.7,16"/><path d="M300.0,-16 L309.7,16"/><path d="M304.0,-16 L313.7,16"/><path d="M308.0,-16 L317.7,16"/><path d="M312.0,-16 L321.7,16"/><path d="M316.0,-16 L325.7,16"/></g></g>
    <rect x="-6" y="-16" width="139" height="32" fill="url(#shade)"/></g>
  <rect x="131" y="-16" width="42.5" height="32" fill="url(#collar)"/>
  <rect x="131" y="-16" width="1.2" height="32" fill="#10167a" opacity="0.7"/>
</g>

<circle cx="166.8" cy="148.5" r="36" fill="url(#ballg)"/>
<ellipse cx="149" cy="140" rx="4" ry="3.5" fill="#fff6e8" opacity="0.9"/>
<ellipse cx="176" cy="160" rx="6" ry="5" fill="#f4c898" opacity="0.6"/>

<circle cx="201.6" cy="184.6" r="6.3" fill="#777"/>

<g>
  <circle cx="857.8" cy="791.6" r="93.2" fill="#fff" stroke="#111" stroke-width="1.9"/>
  <clipPath id="zc"><circle cx="857.8" cy="791.6" r="92"/></clipPath>
  <g clip-path="url(#zc)">
    <path d="M783,738 L792,727.5 L846,770 L838,774 L823,771 Z" fill="url(#tube2)"/>
    <path d="M822.5,770.3 L831,773.6 C838,774.4 845,774.4 852,776.8 C862,781.5 870,787 876.4,792.8 C885,797 891,804 891.8,812.4 C892,821 884,829 873.6,829.2 C866,829 858,823 854,815.2 C851,808 850,803 848.4,798.4 C843,788 832,778 822.5,770.3 Z" fill="#080808"/>
    <path d="M884,799 C891,805 892,815 887,823" stroke="#777" stroke-width="2" fill="none" opacity="0.7"/>
    <ellipse cx="858.3" cy="796.5" rx="1.6" ry="2.2" fill="#fff" transform="rotate(-40 858.3 796.5)"/>
    <ellipse cx="870" cy="821" rx="3.4" ry="2.2" fill="#fff" transform="rotate(35 870 821)"/>
  </g>
</g>
</svg>

<div class="t" style="left:343.8px;top:116.1px;font-size:32.5px;transform:scaleX(0.968)">Handy grip</div>
<div class="t" style="left:729.9px;top:127.3px;font-size:31px;transform:scaleX(0.973)">Comfortable claw tips</div>
<div class="t" style="left:0.2px;top:599.3px;font-size:33.5px;transform:scaleX(0.983)">12 massage claws in</div>
<div class="t" style="left:49px;top:632.1px;font-size:33.3px;transform:scaleX(0.99)">two levels</div>

</body></html>
